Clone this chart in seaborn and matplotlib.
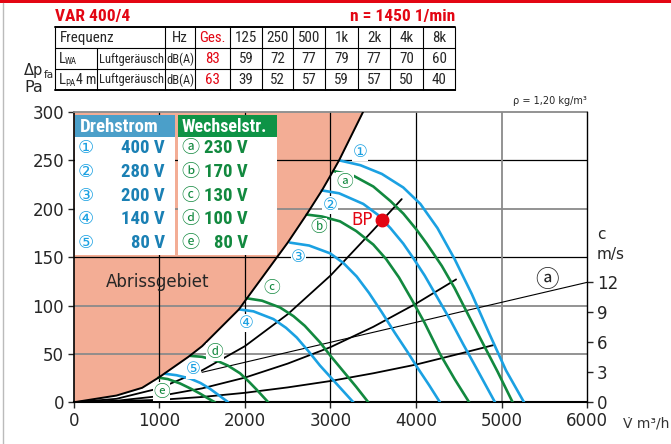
import numpy as np
import pandas as pd
import matplotlib.pyplot as plt
import matplotlib.font_manager as fm
import seaborn as sns
from matplotlib.patches import Rectangle

# ---- data (V in m3/h, dp in Pa) ----
# fan curves, Drehstrom (blue) 1..5 and Wechselstrom (green) a..e
v_1 = [3103, 3350, 3600, 3850, 4050, 4250, 4450, 4650, 4850, 5050, 5261]
p_1 = [250, 245, 236, 222, 205, 180, 148, 112, 72, 33, 0]
v_a = [3033, 3250, 3500, 3700, 3851, 4000, 4124, 4300, 4450, 4600, 4750, 4950, 5128]
p_a = [239, 235, 223, 208, 195, 179, 164, 141, 118, 92, 66, 32, 0]
v_2 = [2897, 3100, 3383, 3550, 3700, 3850, 3967, 4100, 4250, 4400, 4550, 4700, 4922]
p_2 = [219, 216, 205, 194, 180, 164, 149, 131, 108, 85, 60, 36, 0]
v_b = [2722, 2900, 3111, 3300, 3500, 3650, 3800, 3950, 4100, 4279, 4450, 4620]
p_b = [194, 192, 187, 177, 163, 148, 129, 106, 82, 50, 24, 0]
v_3 = [2527, 2750, 2994, 3150, 3306, 3450, 3600, 3750, 3900, 4007, 4150, 4279]
p_3 = [165, 162, 154, 144, 130, 113, 93, 72, 52, 37, 18, 0]
v_c = [2021, 2200, 2410, 2568, 2700, 2877, 3000, 3150, 3300, 3442]
p_c = [107.5, 105, 98, 89, 79, 62, 48, 32, 16, 0]
v_4 = [1934, 2100, 2333, 2480, 2605, 2750, 2877, 3072, 3267]
p_4 = [96, 94, 86, 77, 67, 52, 38, 19, 0]
v_d = [1361, 1500, 1671, 1800, 1943, 2050, 2138, 2273]
p_d = [48, 47, 43, 38, 30, 21, 13, 0]
v_5 = [1067, 1200, 1361, 1480, 1592, 1700, 1806]
p_5 = [29.5, 28, 24.5, 20, 14, 7, 0]
v_e = [988, 1100, 1242, 1370, 1476, 1560, 1651]
p_e = [25.5, 24, 19.5, 14, 9, 4.5, 0]

# system curves (black)
v_sys1 = [0, 500, 1000, 1500, 2000, 2500, 3000, 3500, 3832]
p_sys1 = [0, 3.6, 14.5, 33, 58, 91, 131, 178, 210]
v_sys2 = [0, 500, 1000, 1500, 2000, 2500, 3000, 3500, 4000, 4467]
p_sys2 = [0, 1.6, 6.4, 14.4, 25.5, 40, 57, 78, 102, 127]
v_sys3 = [0, 1000, 1500, 2000, 2500, 3000, 3500, 4000, 4500, 4900]
p_sys3 = [0, 2.5, 5.5, 9.8, 15.4, 22, 30, 39, 50, 59]
# velocity line (a): c = 12 m/s at 6000 m3/h
v_vel = [1500, 6000]
p_vel = [31, 124]

# stall limit (Abrissgebiet)
v_stall = [0, 500, 800, 1000, 1340, 1500, 1930, 2020, 2500, 2720, 2900, 3030, 3100, 3380]
p_stall = [0, 7, 15, 26, 47, 58, 96, 107, 165, 194, 219, 239, 250, 300]

bp_v, bp_p = 3598, 188

drehstrom = ["400 V", "280 V", "200 V", "140 V", "80 V"]
wechsel = ["230 V", "170 V", "130 V", "100 V", "80 V"]
blue_marks = ["\u2460", "\u2461", "\u2462", "\u2463", "\u2464"]
green_marks = ["\u24d0", "\u24d1", "\u24d2", "\u24d3", "\u24d4"]

freq = ["125", "250", "500", "1k", "2k", "4k", "8k"]
lwa = [59, 72, 77, 79, 77, 70, 60]
lpa = [39, 52, 57, 59, 57, 50, 40]
lwa_tot, lpa_tot = 83, 63

c_ticks = [0, 3, 6, 9, 12]

BLUE = "#1ba1e2"
BLUE_D = "#1a80b4"
GREEN = "#12893f"
RED = "#e30613"
SALMON = "#f3ad95"

sns.set_style("white")
plt.rcParams["font.family"] = ["DejaVu Sans", "Noto Sans CJK JP"]
CIRC = ["DejaVu Sans", "Noto Sans CJK JP"]

# narrow font for table and legend (Roboto Condensed if there)
names = {f.name for f in fm.fontManager.ttflist}
if "Roboto Condensed" in names:
    NARROW = {"family": "Roboto Condensed"}
    nscale = 1.0
else:
    NARROW = {"family": "DejaVu Sans"}
    nscale = 0.8


def nt(axx, x, y, s, size, **kw):
    axx.text(x, y, s, fontsize=size * nscale, **NARROW, **kw)


fig = plt.figure(figsize=(6.71, 4.44), dpi=100)
W, H = 671, 444
L, R, T, B = 73.7, 587.3, 112, 402.3
ax = fig.add_axes([L / W, 1 - B / H, (R - L) / W, (B - T) / H])
ax.set_zorder(1)
ax.set_xlim(0, 6000)
ax.set_ylim(0, 300)

# stall region
ax.fill_betweenx(p_stall, 0, v_stall, color=SALMON, lw=0, zorder=0)

# grid
for y in [50, 100, 150, 200, 250]:
    gray = y in (50, 100, 200)
    ax.axhline(y, color="#8a8a8a" if gray else "black", lw=1.3 if gray else 0.9, zorder=1)
for x in [1000, 2000, 3000, 4000, 5000]:
    gray = x == 5000
    ax.axvline(x, color="#8a8a8a" if gray else "black", lw=1.3 if gray else 0.9, zorder=1)

# system curves
sys_df = pd.concat([
    pd.DataFrame({"V": v_sys1, "dp": p_sys1, "k": "s1"}),
    pd.DataFrame({"V": v_sys2, "dp": p_sys2, "k": "s2"}),
    pd.DataFrame({"V": v_sys3, "dp": p_sys3, "k": "s3"}),
])
sns.lineplot(data=sys_df, x="V", y="dp", hue="k", palette=["black"] * 3,
             sort=False, estimator=None, legend=False, lw=1.3, ax=ax, zorder=2)
ax.plot(v_vel, p_vel, color="black", lw=0.8, zorder=2)

# fan curves
fans = [("1", v_1, p_1), ("a", v_a, p_a), ("2", v_2, p_2), ("b", v_b, p_b),
        ("3", v_3, p_3), ("c", v_c, p_c), ("4", v_4, p_4), ("d", v_d, p_d),
        ("5", v_5, p_5), ("e", v_e, p_e)]
fan_df = pd.concat([pd.DataFrame({"V": v, "dp": p, "curve": n}) for n, v, p in fans])
pal = {n: (BLUE if n.isdigit() else GREEN) for n, _, _ in fans}
sns.lineplot(data=fan_df, x="V", y="dp", hue="curve", palette=pal,
             sort=False, estimator=None, legend=False, lw=1.9, ax=ax, zorder=3)

# stall line
ax.plot(v_stall, p_stall, color="black", lw=1.4, zorder=4)

# curve labels
lab_pos = {"1": (3345, 259), "a": (3170, 228), "2": (2994, 204), "b": (2858, 181),
           "3": (2624, 150), "c": (2313, 118), "4": (2021, 82), "d": (1651, 52),
           "5": (1397, 34), "e": (1028, 11)}
for i, n in enumerate(["1", "2", "3", "4", "5"]):
    ax.text(*lab_pos[n], blue_marks[i], color=BLUE, fontsize=12, family=CIRC,
            ha="center", va="center", zorder=5,
            bbox=dict(fc="white", ec="none", pad=0.3))
for i, n in enumerate(["a", "b", "c", "d", "e"]):
    ax.text(*lab_pos[n], green_marks[i], color=GREEN, fontsize=12, family=CIRC,
            ha="center", va="center", zorder=5,
            bbox=dict(fc="white", ec="none", pad=0.3))
ax.text(5525, 126, "\u24d0", fontsize=17, family=CIRC, ha="center", va="center", zorder=5)

ax.plot(bp_v, bp_p, "o", color=RED, ms=9, zorder=6)
ax.text(3490, 188, "BP", color=RED, fontsize=12, ha="right", va="center", zorder=6)
ax.text(985, 124, "Abrissgebiet", fontsize=12, ha="center", va="center", zorder=5)

# axes styling
ax.set_xticks(range(0, 7000, 1000))
ax.set_yticks(range(0, 350, 50))
ax.tick_params(labelsize=12, length=4, width=1, direction="out", pad=3,
               left=True, bottom=True)
ax.set_xlabel("")
ax.set_ylabel("")
ax.spines["right"].set_visible(False)
ax.spines["top"].set_color("#8a8a8a")
ax.spines["top"].set_linewidth(1.3)
ax.spines["left"].set_linewidth(1.2)
ax.spines["bottom"].set_linewidth(1.5)
for s in ["left", "bottom"]:
    ax.spines[s].set_color("black")

ax2 = ax.twinx()
ax2.set_ylim(0, 300 * 12 / 124)
ax2.set_yticks(c_ticks)
ax2.tick_params(labelsize=12, length=4, width=1, direction="out", pad=3, right=True)
for s in ["left", "top", "bottom"]:
    ax2.spines[s].set_visible(False)
ax2.spines["right"].set_color("black")
ax2.spines["right"].set_linewidth(1.0)

# ---- overlay in pixel coords: header, table, legend boxes ----
ov = fig.add_axes([0, 0, 1, 1])
ov.set_zorder(2)
ov.set_xlim(0, W)
ov.set_ylim(H, 0)
ov.axis("off")
ov.patch.set_visible(False)

ov.add_patch(Rectangle((0, 0), W, 3.5, color=RED, lw=0))
ov.plot([3, 3], [3, H], color="#bbbbbb", lw=1)
nt(ov, 55, 17, "VAR 400/4", 12.5, color=RED, weight="bold", ha="left", va="center")
nt(ov, 455, 17, "n = 1450 1/min", 12.5, color=RED, weight="bold", ha="right", va="center")

# table
rows_y = [27, 48.5, 69.5, 90]
cols_x = [165, 195, 230, 261.7, 293.3, 325, 358.3, 390, 423.3]
ov.plot([55, 455], [27, 27], color="black", lw=1.4)
ov.plot([55, 455], [90, 90], color="black", lw=1.4)
for y in rows_y[1:3]:
    ov.plot([55, 455], [y, y], color="black", lw=0.8)
for x in [55, 455]:
    ov.plot([x, x], [27, 90], color="black", lw=0.8)
for x in cols_x:
    ov.plot([x, x], [27, 90], color="black", lw=0.8)
ov.plot([96.7, 96.7], [48.5, 90], color="black", lw=0.8)

tfs = 10.8
r1, r2, r3 = 38, 59, 80
centers = [(cols_x[i] + (cols_x[i + 1] if i + 1 < len(cols_x) else 455)) / 2
           for i in range(len(cols_x))]
nt(ov, 60, r1, "Frequenz", tfs, va="center")
nt(ov, centers[0], r1, "Hz", tfs, ha="center", va="center")
nt(ov, centers[1], r1, "Ges.", tfs, ha="center", va="center", color=RED)
for i, f in enumerate(freq):
    nt(ov, centers[i + 2], r1, f, tfs, ha="center", va="center")

nt(ov, 59, r2, "L", tfs, va="center")
nt(ov, 65, r2 + 3, "WA", 6.5, va="center")
nt(ov, 59, r3, "L", tfs, va="center")
nt(ov, 65, r3 + 3, "PA", 6.5, va="center")
nt(ov, 76, r3, "4 m", 10, va="center")
for r, tot, vals in [(r2, lwa_tot, lwa), (r3, lpa_tot, lpa)]:
    nt(ov, 99, r, "Luftgeräusch", 9.0, va="center")
    nt(ov, centers[0], r, "dB(A)", 9.0, ha="center", va="center")
    nt(ov, centers[1], r, str(tot), tfs, ha="center", va="center", color=RED)
    for i, v in enumerate(vals):
        nt(ov, centers[i + 2], r, str(v), tfs, ha="center", va="center")

# axis captions
ov.text(24, 71, "\u0394p", fontsize=10.5, va="center")
ov.text(44, 75.5, "fa", fontsize=7.5, va="center")
ov.text(24, 88, "Pa", fontsize=11.5, va="center")
ov.text(587, 101, "\u03c1 = 1,20 kg/m\u00b3", fontsize=7, ha="right", va="center")
ov.text(597, 234, "c", fontsize=11, va="center")
ov.text(597, 254, "m/s", fontsize=11, va="center")
ov.text(623, 423, "V\u0307 m\u00b3/h", fontsize=10, va="center", color="#333333")

# legend boxes
ov.add_patch(Rectangle((75, 115), 100, 140, fc="white", ec="none"))
ov.add_patch(Rectangle((75, 115), 100, 22, fc="#4b9fc9", ec="none"))
ov.add_patch(Rectangle((178, 115), 99, 140, fc="white", ec="none"))
ov.add_patch(Rectangle((178, 115), 99, 22, fc="#0e9346", ec="none"))
nt(ov, 80, 126.5, "Drehstrom", 13.5, color="white", weight="bold", va="center")
nt(ov, 182, 126.5, "Wechselstr.", 13, color="white", weight="bold", va="center")
row_y = [148.3, 171.7, 196, 219.3, 243.3]
for i, y in enumerate(row_y):
    ov.text(86, y, blue_marks[i], color=BLUE, fontsize=13, family=CIRC, ha="center", va="center")
    nt(ov, 165, y, drehstrom[i], 13.5, color=BLUE_D, weight="bold", ha="right", va="center")
    ov.text(190, y, green_marks[i], color=GREEN, fontsize=13, family=CIRC, ha="center", va="center")
    nt(ov, 248, y, wechsel[i], 13.5, color=GREEN, weight="bold", ha="right", va="center")

fig.savefig("out.png", dpi=100)
